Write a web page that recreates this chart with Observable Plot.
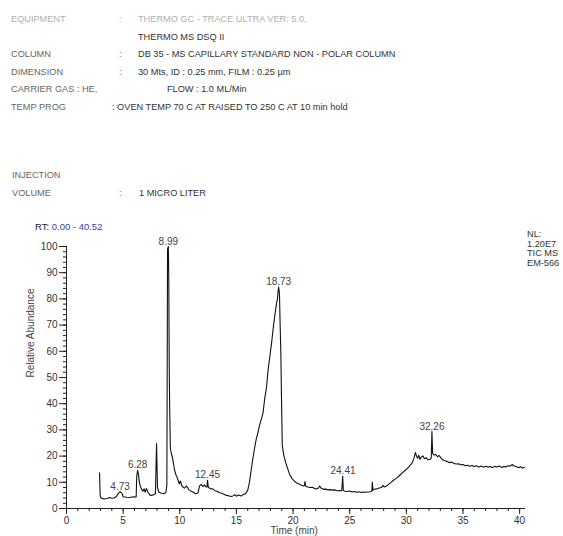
<!DOCTYPE html>
<html>
<head>
<meta charset="utf-8">
<script src="https://cdn.jsdelivr.net/npm/d3@7"></script>
<script src="https://cdn.jsdelivr.net/npm/@observablehq/plot@0.6"></script>
<style>
  html, body { margin: 0; padding: 0; background: #fff; }
  body { width: 563px; height: 536px; position: relative; overflow: hidden;
         font-family: "Liberation Sans", Arial, sans-serif; }
  .t { position: absolute; z-index: 2; font-size: 9.2px; line-height: 10px; white-space: nowrap; color: #333; }
  .lbl { color: #666; }
  .faint { color: #b0b0b0; }
  #chart { position: absolute; left: 0; top: 220px; z-index: 1; }
</style>
</head>
<body>
<div id="chart"></div>
<!-- Instrument / method header -->
<div class="t faint" style="left:11px;top:14px">EQUIPMENT</div>
<div class="t faint" style="left:119px;top:14px">:</div>
<div class="t faint" style="left:138px;top:14px">THERMO GC - TRACE ULTRA VER: 5.0,</div>
<div class="t" style="left:138px;top:32px">THERMO MS DSQ II</div>
<div class="t lbl" style="left:11px;top:49px">COLUMN</div>
<div class="t lbl" style="left:119px;top:49px">:</div>
<div class="t" style="left:138px;top:49px">DB 35 - MS CAPILLARY STANDARD NON - POLAR COLUMN</div>
<div class="t lbl" style="left:11px;top:67px">DIMENSION</div>
<div class="t lbl" style="left:119px;top:67px">:</div>
<div class="t" style="left:138px;top:67px">30 Mts, ID : 0.25 mm, FILM : 0.25 µm</div>
<div class="t lbl" style="left:11px;top:84px">CARRIER GAS : HE,</div>
<div class="t" style="left:167px;top:84px">FLOW : 1.0 ML/Min</div>
<div class="t lbl" style="left:11px;top:102px">TEMP PROG</div>
<div class="t" style="left:112px;top:102px">: OVEN TEMP 70 C AT RAISED TO 250 C AT 10 min hold</div>
<div class="t lbl" style="left:12px;top:170px">INJECTION</div>
<div class="t lbl" style="left:12px;top:188px">VOLUME</div>
<div class="t lbl" style="left:119px;top:188px">:</div>
<div class="t" style="left:139px;top:188px">1 MICRO LITER</div>
<div class="t" style="left:35px;top:222px;font-size:9.5px;color:#223;">RT: <span style="color:#3b3ba8">0.00 - 40.52</span></div>
<div class="t" style="left:527px;top:230px;line-height:9.5px;color:#333;">NL:<br>1.20E7<br>TIC MS<br>EM-566</div>
<script>
// Total ion chromatogram: retention time (min) and relative abundance (%)
const rt = [
  2.92, 2.97, 3.05, 3.3, 3.6, 3.8, 4.0, 4.2, 4.4, 4.55, 4.73, 4.9, 5.0, 5.3, 5.6, 5.9, 6.15, 6.2, 6.28, 6.35,
  6.45, 6.6, 6.75, 6.85, 6.95, 7.05, 7.2, 7.35, 7.5, 7.7, 7.85, 7.95, 8.03, 8.15, 8.4, 8.6, 8.78, 8.86, 8.92, 8.99,
  9.03, 9.07, 9.11, 9.17, 9.25, 9.35, 9.45, 9.55, 9.65, 9.8, 9.95, 10.05, 10.2, 10.4, 10.6, 10.8, 11.0, 11.2, 11.4, 11.6,
  11.75, 11.9, 12.05, 12.2, 12.3, 12.4, 12.45, 12.52, 12.7, 12.9, 13.1, 13.3, 13.5, 13.7, 13.9, 14.1, 14.3, 14.5, 14.7, 14.85,
  15.0, 15.2, 15.4, 15.6, 15.8, 16.0, 16.15, 16.3, 16.45, 16.6, 16.75, 16.9, 17.05, 17.2, 17.35, 17.5, 17.65, 17.8, 17.95, 18.1,
  18.25, 18.4, 18.55, 18.62, 18.68, 18.73, 18.8, 18.86, 18.92, 18.98, 19.05, 19.12, 19.2, 19.35, 19.5, 19.7, 19.9, 20.1, 20.3, 20.5,
  20.7, 20.9, 21.0, 21.05, 21.12, 21.3, 21.5, 21.7, 21.9, 22.1, 22.25, 22.35, 22.5, 22.7, 22.9, 23.1, 23.3, 23.5, 23.7, 23.9,
  24.1, 24.3, 24.38, 24.44, 24.6, 24.8, 25.0, 25.2, 25.4, 25.6, 25.8, 26.0, 26.2, 26.4, 26.6, 26.8, 26.95, 27.0, 27.05, 27.2,
  27.4, 27.6, 27.8, 27.95, 28.05, 28.2, 28.4, 28.6, 28.8, 29.0, 29.2, 29.4, 29.6, 29.8, 30.0, 30.2, 30.4, 30.55, 30.7, 30.8,
  30.9, 31.0, 31.1, 31.2, 31.3, 31.45, 31.6, 31.75, 31.9, 32.1, 32.2, 32.26, 32.32, 32.45, 32.6, 32.75, 32.9, 33.05, 33.2, 33.4,
  33.6, 33.8, 34.0, 34.2, 34.4, 34.6, 34.8, 35.0, 35.2, 35.4, 35.6, 35.8, 36.0, 36.2, 36.4, 36.6, 36.8, 37.0, 37.2, 37.4,
  37.6, 37.8, 38.0, 38.2, 38.4, 38.6, 38.8, 39.0, 39.2, 39.35, 39.5, 39.7, 39.9, 40.1, 40.3, 40.45
];
const abundance = [
  13.6, 5.0, 4.0, 3.6, 3.8, 4.2, 3.9, 4.0, 4.6, 5.6, 6.4, 5.8, 4.5, 4.3, 4.2, 4.5, 4.4, 12.2, 14.6, 13.0,
  9.5, 7.5, 6.6, 7.5, 6.2, 7.6, 6.2, 5.2, 5.0, 5.3, 5.6, 24.8, 8.0, 6.2, 5.8, 5.6, 6.2, 9.0, 99, 100,
  87, 53, 38, 23, 21, 19.5, 17, 14.5, 13, 11.5, 9.4, 10.5, 8.5, 7.8, 8.6, 7.2, 6.6, 6.2, 5.6, 5.9,
  8.6, 9.2, 8.4, 9.0, 8.3, 8.2, 10.8, 8.0, 7.6, 7.5, 6.8, 6.6, 6.0, 5.8, 5.4, 5.0, 4.9, 4.6, 4.8, 5.3,
  4.7, 5.2, 4.8, 5.3, 5.6, 7.0, 10, 14.5, 19, 23, 26.5, 29, 32, 34, 36.5, 42, 46, 53, 58, 63,
  69, 74, 78.5, 80, 83, 84.5, 82, 70, 60, 42, 24, 22, 20, 17.5, 15.5, 13, 11.5, 10.5, 9.8, 9.4,
  9.0, 8.6, 8.8, 10.3, 8.5, 8.2, 8.0, 8.1, 7.6, 7.5, 7.8, 8.6, 7.7, 7.3, 7.4, 7.1, 7.2, 7.0, 7.1, 6.8,
  6.9, 6.8, 12.3, 6.9, 6.6, 6.5, 6.7, 6.3, 6.5, 6.2, 6.4, 6.1, 6.3, 6.2, 6.3, 6.4, 6.6, 10.1, 7.0, 7.4,
  7.5, 7.8, 8.0, 8.8, 8.2, 8.5, 9.1, 9.8, 10.5, 11.2, 11.8, 12.6, 13.4, 14.2, 14.9, 15.8, 16.8, 17.7, 19.5, 21.4,
  20, 19.2, 20.3, 18.8, 19.5, 20.1, 19.0, 19.4, 18.6, 18.8, 19.2, 29.4, 21, 20.4, 20.6, 19.8, 20.2, 19.3, 18.6, 18.2,
  18.0, 17.5, 17.7, 17.2, 17.0, 17.1, 16.7, 16.8, 16.3, 16.5, 16.1, 16.4, 16.0, 16.3, 15.8, 16.2, 15.7, 16.1, 15.8, 16.0,
  15.6, 16.1, 15.8, 16.2, 15.7, 16.0, 15.9, 16.3, 16.2, 16.8, 16.2, 16.0, 15.6, 15.9, 15.4, 15.8
];

// Annotated peaks: retention time and apex height
const peakTimes = [4.73, 6.28, 8.99, 12.45, 18.73, 24.41, 32.26];
const peakHeights = [6.4, 14.6, 100, 10.8, 84.5, 12.3, 29.4];

const xMajor = d3.range(0, 41, 5);
const xMinor = d3.range(0, 41, 1);
const yMajor = d3.range(0, 101, 10);
const yMinor = d3.range(0, 101, 2);

const trace = rt.map((t, i) => ({t, v: abundance[i]}));
const peaks = peakTimes.map((t, i) => ({t, v: peakHeights[i]}));

const chart = Plot.plot({
  width: 563,
  height: 316,
  marginLeft: 66,
  marginRight: 38,
  marginTop: 26,
  marginBottom: 28,
  style: {fontFamily: "Liberation Sans, Arial, sans-serif", color: "#333", background: "transparent"},
  x: {domain: [0, 40.52]},
  y: {domain: [0, 100]},
  marks: [
    Plot.axisY({ticks: yMinor, tickSize: 3, text: null, label: null, stroke: "#222"}),
    Plot.axisY({ticks: yMajor, tickSize: 7, tickPadding: 2, fontSize: 10, stroke: "#222", label: null}),
    Plot.axisX({ticks: xMinor, tickSize: 3, text: null, label: null, stroke: "#222"}),
    Plot.axisX({ticks: xMajor, tickSize: 6, tickPadding: 2, fontSize: 10, stroke: "#222", label: null}),
    Plot.ruleX([0], {stroke: "#222"}),
    Plot.ruleY([0], {x1: 0, x2: 40.52, stroke: "#222"}),
    Plot.line(trace, {x: "t", y: "v", stroke: "#111", strokeWidth: 1.1, curve: "linear"}),
    Plot.text(peaks, {x: "t", y: "v", text: d => d.t.toFixed(2), dy: -5, fontSize: 10, fill: "#444"}),
    Plot.text(["Relative Abundance"], {frameAnchor: "left", dx: -36, rotate: -90, fontSize: 10, fill: "#444"}),
    Plot.text(["Time (min)"], {x: 20.1, frameAnchor: "bottom", dy: 25, fontSize: 10, fill: "#444"})
  ]
});
document.getElementById("chart").appendChild(chart);
</script>
</body>
</html>
